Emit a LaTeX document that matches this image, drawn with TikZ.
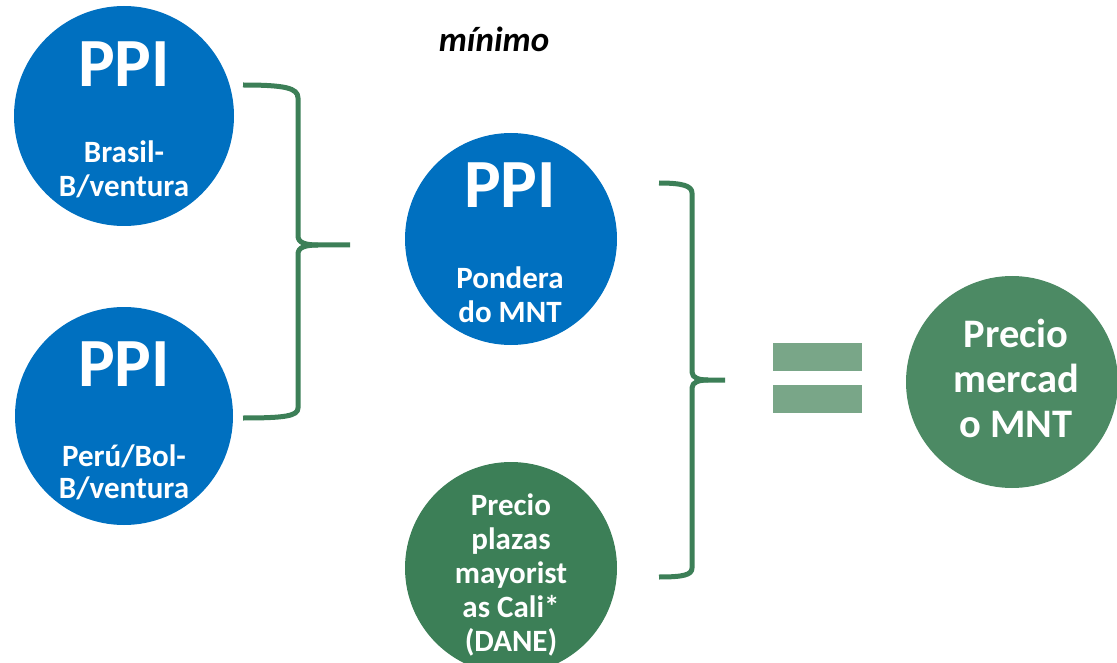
\documentclass[tikz,border=0pt]{standalone}
\usepackage{fontspec}
\setmainfont{Carlito}
\definecolor{ppiblue}{HTML}{0070C0}
\definecolor{dkgreen}{HTML}{3C7F57}
\definecolor{mdgreen}{HTML}{4C8A64}
\definecolor{eqgreen}{HTML}{79A688}
\definecolor{bracegreen}{HTML}{3C7F57}
\tikzset{
  bubble/.style={circle, inner sep=0pt, minimum size=#1},
  bluebub/.style={bubble=212pt, fill=ppiblue},
  big/.style={text=white, font=\bfseries\fontsize{69}{80}\selectfont, anchor=base, inner sep=0pt},
  small/.style={text=white, font=\bfseries\fontsize{31}{34}\selectfont, anchor=base, inner sep=0pt},
  mid/.style={text=white, font=\bfseries\fontsize{40.5}{44}\selectfont, anchor=base, inner sep=0pt},
  bracepath/.style={draw=bracegreen, line width=5pt, line join=round},
  eqbar/.style={fill=eqgreen, minimum width=89pt, minimum height=28pt, inner sep=0pt}
}
\begin{document}
\begin{tikzpicture}[x=1pt,y=-1pt]
\useasboundingbox (0,0) rectangle (1117,663);
\clip (0,0) rectangle (1117,663);
% circles
\node[bluebub, minimum width=220pt] (c1) at (124,116) {};
\node[bluebub, minimum width=218pt] (c2) at (124,416) {};
\node[bluebub] (c3) at (511,239) {};
\node[bubble=212pt, fill=dkgreen] (c4) at (511,568) {};
\node[bubble=212pt, fill=mdgreen] (c5) at (1012,382) {};
% texts
\node[font=\bfseries\itshape\fontsize{35}{38}\selectfont, anchor=base, inner sep=0pt] (min) at (494,52) {mínimo};
\node[big] (t1a) at (124,87) {PPI};
\node[small] (t1b) at (124,163) {Brasil-};
\node[small] (t1c) at (124,197) {B/ventura};
\node[big] (t2a) at (124,386) {PPI};
\node[small] (t2b) at (124,466) {Perú/Bol-};
\node[small] (t2c) at (124,498) {B/ventura};
\node[big] (t3a) at (510,208) {PPI};
\node[small] (t3b) at (510,288) {Pondera};
\node[small] (t3c) at (510,322) {do MNT};
\node[small] (t4a) at (511,515) {Precio};
\node[small] (t4b) at (511,549) {plazas};
\node[small] (t4c) at (511,583) {mayorist};
\node[small] (t4d) at (511,617) {as Cali*};
\node[small] (t4e) at (511,651) {(DANE)};
\node[mid] (t5a) at (1016,347) {Precio};
\node[mid] (t5b) at (1016,392) {mercad};
\node[mid] (t5c) at (1016,437) {o MNT};
% equals
\node[eqbar] (eq1) at (817.5,357) {};
\node[eqbar] (eq2) at (817.5,399) {};
% brace 1
\coordinate (b1top) at (243,85);
\coordinate (b1bot) at (243,418);
\coordinate (b1tip) at (350,245);
\draw[bracepath] (b1top) .. controls (285,85) and (298,88) .. (298,98) -- (298,236)
   .. controls (298,243) and (306,245) .. (318,245) -- (b1tip);
\draw[bracepath] (318,245) .. controls (306,245) and (298,247) .. (298,254) -- (298,408)
   .. controls (298,416) and (285,418) .. (b1bot);
% brace 2
\coordinate (b2top) at (659,183);
\coordinate (b2bot) at (659,577);
\coordinate (b2tip) at (725,380);
\draw[bracepath] (b2top) .. controls (683,183) and (692,186) .. (692,193) -- (692,372)
   .. controls (692,378) and (699,380) .. (708,380) -- (b2tip);
\draw[bracepath] (708,380) .. controls (699,380) and (692,382) .. (692,388) -- (692,568)
   .. controls (692,575) and (683,577) .. (b2bot);
\end{tikzpicture}
\end{document}
